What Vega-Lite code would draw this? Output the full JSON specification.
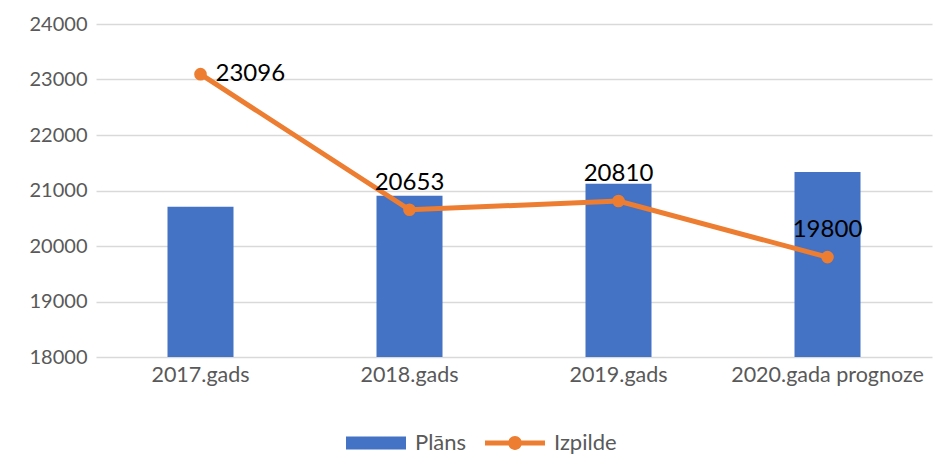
{
  "$schema": "https://vega.github.io/schema/vega-lite/v6.json",
  "width": 836,
  "height": 333,
  "autosize": {"type": "none"},
  "padding": {"left": 96, "top": 24, "right": 5, "bottom": 98},
  "background": "white",
  "data": {
    "values": [
      {"year": "2017.gads", "series": "Plāns", "value": 20705},
      {"year": "2018.gads", "series": "Plāns", "value": 20905},
      {"year": "2019.gads", "series": "Plāns", "value": 21120},
      {"year": "2020.gada prognoze", "series": "Plāns", "value": 21335},
      {"year": "2017.gads", "series": "Izpilde", "value": 23096},
      {"year": "2018.gads", "series": "Izpilde", "value": 20653},
      {"year": "2019.gads", "series": "Izpilde", "value": 20810},
      {"year": "2020.gada prognoze", "series": "Izpilde", "value": 19800}
    ]
  },
  "encoding": {
    "x": {
      "field": "year", "type": "nominal", "sort": null, "title": null,
      "scale": {"paddingInner": 0, "paddingOuter": 0},
      "axis": {"labelAngle": 0, "domain": false, "ticks": false, "labelPadding": 7, "labelFontSize": 21.5, "labelLimit": 0, "labelColor": "#595959", "labelFont": "Lato", "grid": false}
    },
    "y": {
      "field": "value", "type": "quantitative", "title": null,
      "scale": {"domain": [18000, 24000], "zero": false, "nice": false},
      "axis": {"values": [18000, 19000, 20000, 21000, 22000, 23000, 24000], "format": "d", "domain": false, "ticks": false, "labelPadding": 9, "labelFontSize": 20, "labelColor": "#595959", "labelFont": "Lato", "gridColor": "#d9d9d9", "gridWidth": 1.5}
    }
  },
  "layer": [
    {
      "transform": [{"filter": "datum.series === 'Plāns'"}],
      "mark": {"type": "bar", "width": 66, "color": "#4472C4"},
      "encoding": {
        "y2": {"datum": 18000},
        "color": {"field": "series", "type": "nominal", "title": null,
          "scale": {"domain": ["Plāns", "Izpilde"], "range": ["#4472C4", "#ED7D31"]}}
      }
    },
    {
      "transform": [{"filter": "datum.series === 'Izpilde'"}],
      "mark": {"type": "line", "strokeWidth": 5, "color": "#ED7D31"},
      "encoding": {
        "color": {"field": "series", "type": "nominal", "title": null}
      }
    },
    {
      "transform": [{"filter": "datum.series === 'Izpilde'"}],
      "mark": {"type": "point", "shape": "circle", "filled": true, "size": 160, "opacity": 1, "color": "#ED7D31"},
      "encoding": {
        "color": {"field": "series", "type": "nominal", "title": null}
      }
    },
    {
      "transform": [{"filter": "datum.series === 'Izpilde' && datum.year === '2017.gads'"}],
      "mark": {"type": "text", "align": "left", "baseline": "middle", "dx": 15, "fontSize": 24, "font": "Lato", "color": "#000000"},
      "encoding": {"text": {"field": "value", "type": "quantitative", "format": "d"}}
    },
    {
      "transform": [{"filter": "datum.series === 'Izpilde' && datum.year !== '2017.gads'"}],
      "mark": {"type": "text", "align": "center", "baseline": "alphabetic", "dy": -20, "fontSize": 24, "font": "Lato", "color": "#000000"},
      "encoding": {"text": {"field": "value", "type": "quantitative", "format": "d"}}
    },
    {
      "mark": {"type": "point", "filled": true, "fillOpacity": 0, "strokeOpacity": 0},
      "encoding": {
        "color": {"field": "series", "type": "nominal", "title": null},
        "shape": {"field": "series", "type": "nominal", "title": null,
          "scale": {"domain": ["Plāns", "Izpilde"], "range": ["M-1,-0.22H1V0.22H-1Z", "M-1,-0.08H1V0.08H-1Z M0.23,0 A0.23,0.23 0 1,1 -0.23,0 A0.23,0.23 0 1,1 0.23,0 Z"]}}
      }
    }
  ],
  "config": {
    "view": {"stroke": null},
    "legend": {
      "orient": "none",
      "legendX": 250,
      "legendY": 389,
      "direction": "horizontal",
      "symbolSize": 3600,
      "symbolOpacity": 1,
      "symbolStrokeWidth": 0,
      "labelFontSize": 22,
      "labelFont": "Lato",
      "labelColor": "#595959",
      "labelOffset": 9,
      "columnPadding": 18,
      "title": null
    }
  }
}
